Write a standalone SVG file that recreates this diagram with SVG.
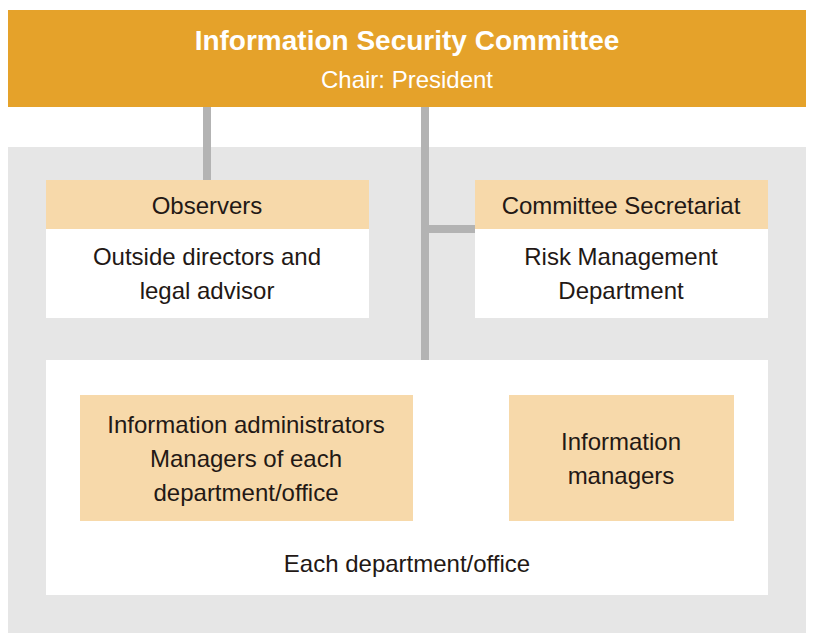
<svg xmlns="http://www.w3.org/2000/svg" width="815" height="636" viewBox="0 0 815 636">
<style>
text{font-family:"Liberation Sans",Arial,sans-serif;fill:#231815;text-anchor:middle;font-size:24px}
.hd{fill:#F7D9AA}.wh{fill:#fff}
.ln{stroke:#B3B3B3;stroke-width:8;fill:none}
</style>
<defs><marker id="ah" markerWidth="4" markerHeight="4" refX="2" refY="2" orient="auto" markerUnits="strokeWidth"><path d="M0,0 L2.2,2 L0,4 Z" fill="#B3B3B3"/></marker></defs>
<rect x="0" y="0" width="815" height="636" fill="#fff"/>
<rect x="8" y="147" width="798" height="486" fill="#E6E6E6"/>
<g id="connectors">
<path class="ln" d="M207,107 V180"/>
<path class="ln" d="M425,107 V360"/>
<path class="ln" d="M425,229 H475"/>
<path class="ln" d="M413,458 H488" marker-end="url(#ah)"/>
<text x="461" y="431" style="font-size:18px">Designate</text>
</g>
<g id="committee">
<rect x="8" y="10" width="798" height="97" fill="#E5A22A"/>
<text x="407" y="50" style="fill:#fff;font-weight:bold;font-size:28px">Information Security Committee</text>
<text x="407" y="88" style="fill:#fff">Chair: President</text>
</g>
<g id="observers">
<rect class="hd" x="46" y="180" width="323" height="49"/>
<rect class="wh" x="46" y="229" width="323" height="89"/>
<text x="207" y="214">Observers</text>
<text x="207" y="265">Outside directors and</text>
<text x="207" y="299">legal advisor</text>
</g>
<g id="secretariat">
<rect class="hd" x="475" y="180" width="293" height="49"/>
<rect class="wh" x="475" y="229" width="293" height="89"/>
<text x="621" y="214">Committee Secretariat</text>
<text x="621" y="265">Risk Management</text>
<text x="621" y="299">Department</text>
</g>
<g id="department">
<rect class="wh" x="46" y="360" width="722" height="235"/>
<text x="407" y="572">Each department/office</text>
</g>
<g id="admins">
<rect class="hd" x="80" y="395" width="333" height="126"/>
<text x="246" y="433">Information administrators</text>
<text x="246" y="467">Managers of each</text>
<text x="246" y="501">department/office</text>
</g>
<g id="managers">
<rect class="hd" x="509" y="395" width="225" height="126"/>
<text x="621" y="450">Information</text>
<text x="621" y="484">managers</text>
</g>
</svg>
